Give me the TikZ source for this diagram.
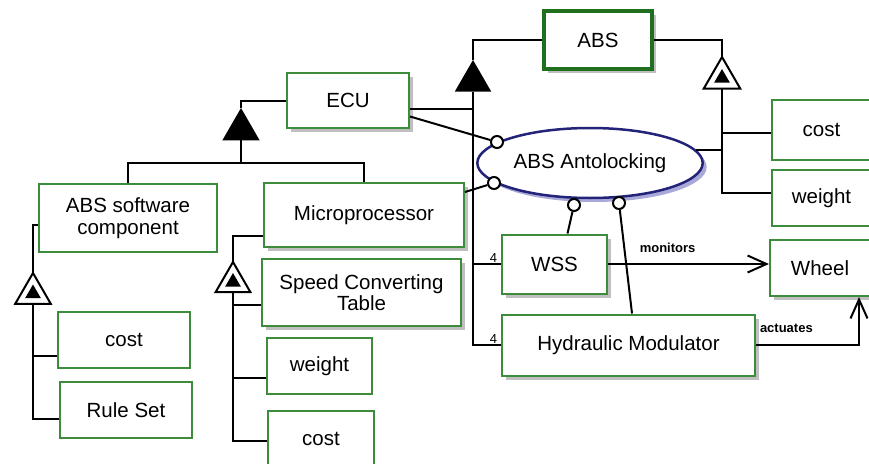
\documentclass[tikz,border=0pt]{standalone}
\usepackage{fontspec}
\setmainfont{Liberation Sans}
\usepackage{tikz}
\usetikzlibrary{arrows.meta, shapes.geometric, shadows, calc}
\definecolor{featgreen}{HTML}{3C8C3C}
\definecolor{rootgreen}{HTML}{1F6F1F}
\definecolor{goalblue}{HTML}{23237A}
\definecolor{goalshade}{HTML}{A9A9D9}
\tikzset{
  featbox/.style  = {draw=featgreen, line width=2pt, fill=white},
  shadebox/.style = {drop shadow={shadow xshift=4pt, shadow yshift=-4pt,
                     fill=black!25, opacity=1}},
}

\begin{document}
\begin{tikzpicture}[
    x=1pt, y=-1pt,
    >={Straight Barb[length=19pt, width=17pt]},
    every node/.style ={font=\fontsize{20.5}{21.5}\selectfont},
    feat/.style   ={featbox, inner sep=2pt, align=center, minimum height=56pt},
    root/.style   ={feat, draw=rootgreen, line width=4pt},
    goal/.style   ={ellipse, draw=goalblue, line width=2.5pt, fill=white,
                    drop shadow={shadow xshift=4pt, shadow yshift=-4pt,
                    fill=goalshade, opacity=1}},
    port/.style   ={circle, draw, fill=white, line width=2pt,
                    minimum size=12pt, inner sep=0pt},
    andtri/.style ={regular polygon, regular polygon sides=3, fill=black,
                    inner sep=0pt, outer sep=0pt},
    attrtri/.style={regular polygon, regular polygon sides=3, draw, fill=white,
                    line width=2pt, inner sep=0pt, outer sep=0pt},
    dottri/.style ={regular polygon, regular polygon sides=3, fill=black,
                    inner sep=0pt, minimum size=18pt},
    link/.style   ={line width=2pt, draw=black},
    rel/.style    ={font=\fontsize{13}{14}\selectfont\bfseries, inner sep=0pt},
    mult/.style   ={font=\fontsize{13}{14}\selectfont, inner sep=1pt}
  ]
  \clip (0,0) rectangle (869,463);

  %% --- Root feature and its composition -------------------------------
  \node[root, shadebox, minimum width=108pt, minimum height=58pt] (abs) at (598,40) {ABS};
  \node[andtri, minimum size=42pt, anchor=corner 1] (absand) at (473,60) {};
  \node[attrtri, minimum size=42pt, anchor=corner 1] (absattr) at (722,57) {};
  \node[dottri] at (absattr.center) {};

  %% --- ECU subtree ----------------------------------------------------
  \node[feat, shadebox, minimum width=122pt, minimum height=55pt] (ecu) at (348,100.5) {ECU};
  \node[andtri, minimum size=43pt, anchor=corner 1] (ecuand) at (241,108) {};
  \coordinate (ecubus) at (241,163);
  \node[feat, minimum width=178pt, minimum height=68pt] (swcomp) at (128,218)
      {ABS software\\component};
  \node[feat, shadebox, minimum width=200pt, minimum height=64pt] (micro) at (364,215)
      {Microprocessor};

  %% --- Attributes of the software component ---------------------------
  \node[attrtri, minimum size=41pt, anchor=corner 1] (swattr) at (33,273) {};
  \node[dottri] at (swattr.center) {};
  \node[feat, minimum width=132pt] (lcost) at (124,340) {cost};
  \node[feat, minimum width=132pt] (ruleset) at (126,410) {Rule Set};

  %% --- Attributes of the microprocessor -------------------------------
  \node[attrtri, minimum size=40pt, anchor=corner 1] (mattr) at (233,262) {};
  \node[dottri] at (mattr.center) {};
  \node[feat, shadebox, minimum width=199pt, minimum height=67pt] (speed) at (361.5,292.5)
      {Speed Converting\\Table};
  \node[feat, minimum width=105pt] (mweight) at (319.5,366) {weight};
  \node[feat, minimum width=106pt] (mcost) at (321,439) {cost};

  %% --- Goal ellipse with its ports ------------------------------------
  \node[goal, minimum width=204pt, minimum height=70pt] (antilock) at (590,163)
      {ABS Antolocking};
  \node[port] (p1) at (497,142) {};
  \node[port] (p2) at (494,183) {};
  \node[port] (p3) at (574,205) {};
  \node[port] (p4) at (619,203) {};

  %% --- Sensors, actuator and the wheel --------------------------------
  \node[feat, shadebox, minimum width=105pt, minimum height=59pt] (wss) at (554.5,264) {WSS};
  \node[feat, shadebox, minimum width=253pt, minimum height=61pt] (hydr) at (628.5,345)
      {Hydraulic Modulator};
  \node[feat, shadebox, minimum width=100pt] (wheel) at (820,268) {Wheel};
  \node[feat, minimum width=99pt, minimum height=60pt] (rcost) at (821.5,130) {cost};
  \node[feat, minimum width=99pt] (rweight) at (821.5,198) {weight};

  %% --- Composition edges ----------------------------------------------
  \draw[link] (abs.west) -| (absand.corner 1);
  \draw[link] (absand.side 2) |- (wss.west) node[mult, pos=1, anchor=south east, xshift=-2pt] {4};
  \draw[link] (absand.side 2) |- (hydr.west) node[mult, pos=1, anchor=south east, xshift=-2pt] {4};
  \draw[link] ([yshift=-8pt]ecu.east) -- ([yshift=-8pt]ecu.east -| absand.side 2);
  \draw[link] (ecu.west) -| (ecuand.corner 1);
  \draw[link] (ecuand.side 2) -- (ecubus);
  \draw[link] (swcomp.north) |- (ecubus) -| (micro.north);

  %% --- Attribute edges ------------------------------------------------
  \draw[link] (abs.east) -| (absattr.corner 1);
  \draw[link] (absattr.side 2) |- ([yshift=-3pt]rcost.west);
  \draw[link] (absattr.side 2) |- ([yshift=5pt]rweight.west);
  \draw[link] (antilock.7) -- (antilock.7 -| absattr.side 2);
  \draw[link] ([yshift=-7pt]swcomp.west) -| (swattr.corner 1);
  \draw[link] (swattr.side 2) |- ([yshift=-16pt]lcost.west);
  \draw[link] (swattr.side 2) |- ([yshift=-9pt]ruleset.west);
  \draw[link] ([yshift=-21pt]micro.west) -| (mattr.corner 1);
  \draw[link] (mattr.side 2) |- ([yshift=-12pt]speed.west);
  \draw[link] (mattr.side 2) |- ([yshift=-12pt]mweight.west);
  \draw[link] (mattr.side 2) |- ([yshift=-2pt]mcost.west);

  %% --- Port edges and relations ---------------------------------------
  \draw[link] ([yshift=-16pt]ecu.east) -- (p1);
  \draw[link] ([yshift=23pt]micro.east) -- (p2);
  \draw[link] ([xshift=13pt]wss.north) -- (p3);
  \draw[link] ([xshift=3.5pt]hydr.north) -- (p4);
  \draw[link, ->] (wss.east) -- (wss.east -| wheel.west)
      node[rel, pos=0.37, anchor=base, yshift=12pt] {monitors};
  \draw[link, ->] (hydr.east) -| ([xshift=39pt]wheel.south)
      node[rel, pos=0, anchor=base west, xshift=3pt, yshift=13pt] {actuates};
\end{tikzpicture}
\end{document}
